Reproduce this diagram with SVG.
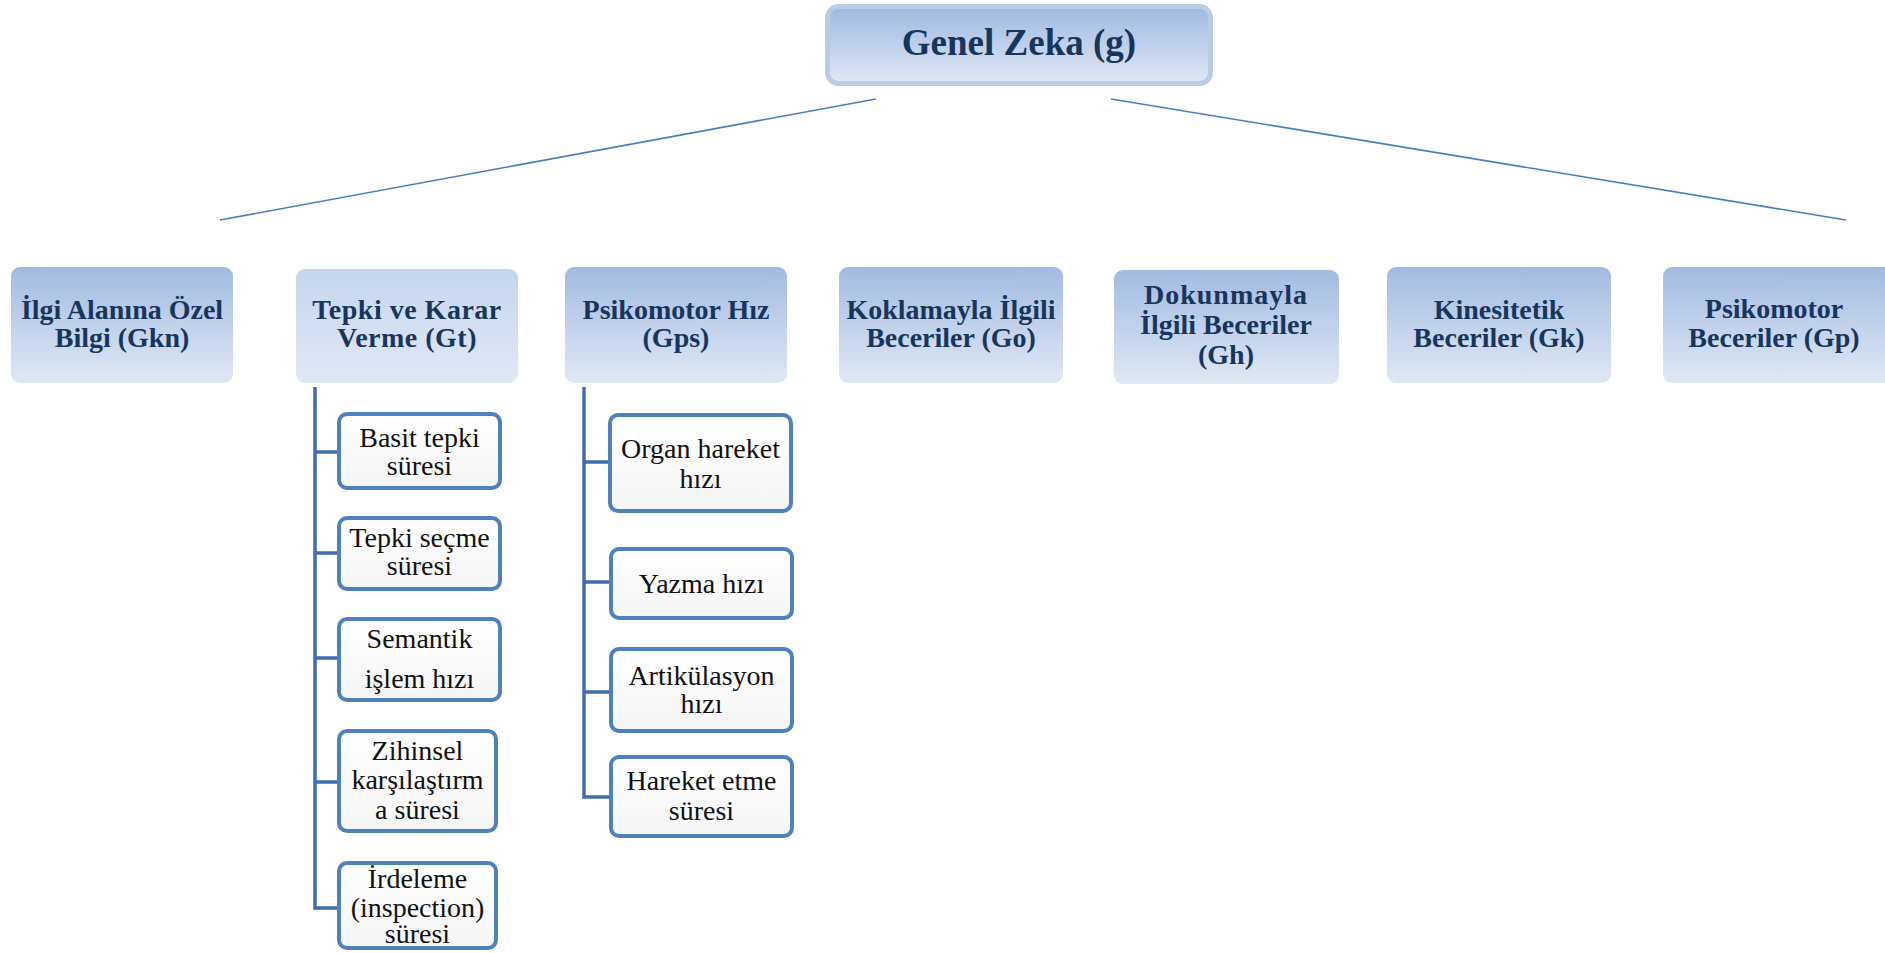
<svg xmlns="http://www.w3.org/2000/svg" width="1885" height="953" viewBox="0 0 1885 953">
<defs>
<linearGradient id="gMain" x1="0" y1="0" x2="0" y2="1">
<stop offset="0" stop-color="#9fb8e1"/>
<stop offset="1" stop-color="#e0e8f4"/>
</linearGradient>
<linearGradient id="gBox" x1="0" y1="0" x2="0" y2="1">
<stop offset="0" stop-color="#a2bae2"/>
<stop offset="1" stop-color="#e0e8f4"/>
</linearGradient>
<linearGradient id="gLight" x1="0" y1="0" x2="0" y2="1">
<stop offset="0" stop-color="#c6d5ee"/>
<stop offset="1" stop-color="#e0e8f4"/>
</linearGradient>
<linearGradient id="gChild" x1="0" y1="0" x2="0" y2="1">
<stop offset="0" stop-color="#ffffff"/>
<stop offset="1" stop-color="#f5f5f5"/>
</linearGradient>
</defs>
<style>
.main{fill:url(#gMain);stroke:#b8cce4;stroke-width:5}
.cat{fill:url(#gBox);stroke:none}
.catl{fill:url(#gLight);stroke:none}
.child{fill:url(#gChild);stroke:#4f81bd;stroke-width:4}
.t1{font-family:"Liberation Serif","Times New Roman",serif;font-weight:bold;font-size:37px;fill:#17365d;text-anchor:middle}
.t2{font-family:"Liberation Serif","Times New Roman",serif;font-weight:bold;font-size:28px;fill:#17365d;text-anchor:middle}
.t3{font-family:"Liberation Serif","Times New Roman",serif;font-size:28px;fill:#111111;text-anchor:middle}
.diag{fill:none;stroke:#4a7ebb;stroke-width:1.6}
.tree{fill:none;stroke:#3f6fab;stroke-width:3.5}
</style>
<rect width="1885" height="953" fill="#ffffff"/>
<g id="connectors">
<line class="diag" x1="220" y1="220" x2="876" y2="99"/>
<line class="diag" x1="1111" y1="99" x2="1846" y2="220"/>
<path class="tree" d="M315,387 V908 H338 M315,452 H338 M315,553 H338 M315,658 H338 M315,782 H338"/>
<path class="tree" d="M584,387 V797 H609 M584,462 H609 M584,582 H609 M584,692 H609"/>
</g>
<g id="n-genel">
<rect class="main" x="827.5" y="6.5" width="383" height="77" rx="11"/>
<text class="t1" x="1019" y="55">Genel Zeka (g)</text>
</g>
<g id="n-gkn">
<rect class="cat" x="11" y="267" width="222" height="116" rx="9"/>
<text class="t2" x="122" y="319">İlgi Alanına Özel</text>
<text class="t2" x="122" y="347">Bilgi (Gkn)</text>
</g>
<g id="n-gt">
<rect class="catl" x="296" y="269" width="222" height="114" rx="9"/>
<text class="t2" x="407" y="319" letter-spacing="0.5">Tepki ve Karar</text>
<text class="t2" x="407" y="347" letter-spacing="0.5">Verme (Gt)</text>
</g>
<g id="n-gps">
<rect class="cat" x="565" y="267" width="222" height="116" rx="9"/>
<text class="t2" x="676" y="319">Psikomotor Hız</text>
<text class="t2" x="676" y="347">(Gps)</text>
</g>
<g id="n-go">
<rect class="cat" x="839" y="267" width="224" height="116" rx="9"/>
<text class="t2" x="951" y="319">Koklamayla İlgili</text>
<text class="t2" x="951" y="347">Beceriler (Go)</text>
</g>
<g id="n-gh">
<rect class="cat" x="1114" y="270" width="225" height="114" rx="9"/>
<text class="t2" x="1226" y="304" letter-spacing="1">Dokunmayla</text>
<text class="t2" x="1226" y="334">İlgili Beceriler</text>
<text class="t2" x="1226" y="364">(Gh)</text>
</g>
<g id="n-gk">
<rect class="cat" x="1387" y="267" width="224" height="116" rx="9"/>
<text class="t2" x="1499" y="319">Kinesitetik</text>
<text class="t2" x="1499" y="347">Beceriler (Gk)</text>
</g>
<g id="n-gp">
<rect class="cat" x="1663" y="267" width="230" height="116" rx="9"/>
<text class="t2" x="1774" y="318">Psikomotor</text>
<text class="t2" x="1774" y="347">Beceriler (Gp)</text>
</g>
<g id="n-basit">
<rect class="child" x="339" y="414" width="161" height="74" rx="8"/>
<text class="t3" x="419.5" y="447">Basit tepki</text>
<text class="t3" x="419.5" y="475">süresi</text>
</g>
<g id="n-secme">
<rect class="child" x="339" y="518" width="161" height="71" rx="8"/>
<text class="t3" x="419.5" y="547">Tepki seçme</text>
<text class="t3" x="419.5" y="575">süresi</text>
</g>
<g id="n-semantik">
<rect class="child" x="339" y="619" width="161" height="81" rx="8"/>
<text class="t3" x="419.5" y="648">Semantik</text>
<text class="t3" x="419.5" y="688">işlem hızı</text>
</g>
<g id="n-zihinsel">
<rect class="child" x="339" y="731" width="157" height="100" rx="8"/>
<text class="t3" x="417.5" y="760">Zihinsel</text>
<text class="t3" x="417.5" y="789">karşılaştırm</text>
<text class="t3" x="417.5" y="819">a süresi</text>
</g>
<g id="n-irdeleme">
<rect class="child" x="339" y="863" width="157" height="85" rx="8"/>
<text class="t3" x="417.5" y="888">İrdeleme</text>
<text class="t3" x="417.5" y="917">(inspection)</text>
<text class="t3" x="417.5" y="943">süresi</text>
</g>
<g id="n-organ">
<rect class="child" x="610" y="415" width="181" height="96" rx="8"/>
<text class="t3" x="700.5" y="458">Organ hareket</text>
<text class="t3" x="700.5" y="488">hızı</text>
</g>
<g id="n-yazma">
<rect class="child" x="611" y="549" width="181" height="69" rx="8"/>
<text class="t3" x="701.5" y="593">Yazma hızı</text>
</g>
<g id="n-artik">
<rect class="child" x="611" y="649" width="181" height="82" rx="8"/>
<text class="t3" x="701.5" y="685">Artikülasyon</text>
<text class="t3" x="701.5" y="713">hızı</text>
</g>
<g id="n-hareket">
<rect class="child" x="611" y="757" width="181" height="79" rx="8"/>
<text class="t3" x="701.5" y="790">Hareket etme</text>
<text class="t3" x="701.5" y="820">süresi</text>
</g>
</svg>
